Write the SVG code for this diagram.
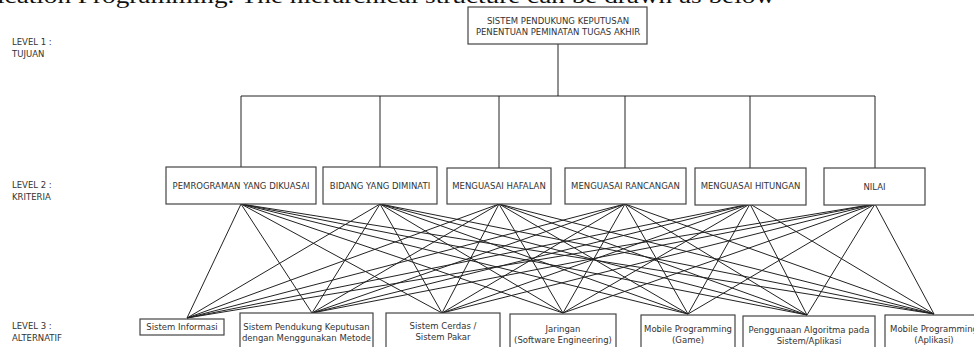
<svg xmlns="http://www.w3.org/2000/svg" width="974" height="347" viewBox="0 0 974 347">
<style>
.bx{fill:#fff;stroke:#444;stroke-width:1.2}
.t{font-family:"DejaVu Sans",Verdana,sans-serif;font-size:8.5px;fill:#333;text-anchor:middle}
.lv{font-family:"DejaVu Sans",Verdana,sans-serif;font-size:8.5px;fill:#333}
.c line,.c path{stroke:#222;stroke-width:1;fill:none}
.cap{font-family:"Liberation Serif","Times New Roman",serif;font-size:22px;fill:#111}
</style>
<rect width="974" height="347" fill="#fff"/>
<text class="cap" x="-3" y="3" textLength="778" lengthAdjust="spacingAndGlyphs">ication Programming. The hierarchical structure can be drawn as below</text>
<g id="levels">
<text class="lv" x="12" y="45">LEVEL 1 :</text>
<text class="lv" x="12" y="57">TUJUAN</text>
<text class="lv" x="12" y="188">LEVEL 2 :</text>
<text class="lv" x="12" y="200">KRITERIA</text>
<text class="lv" x="12" y="329">LEVEL 3 :</text>
<text class="lv" x="12" y="341">ALTERNATIF</text>
</g>
<g class="c" id="connectors">
<path d="M558 44V96M241 168V96H875V168M380 96V168M499 96V168M625 96V168M750 96V168"/>
<g id="links">
<line x1="241" y1="204" x2="187" y2="318"/><line x1="241" y1="204" x2="312" y2="313"/><line x1="241" y1="204" x2="442" y2="313"/><line x1="241" y1="204" x2="563" y2="313"/><line x1="241" y1="204" x2="688" y2="314"/><line x1="241" y1="204" x2="807" y2="315"/><line x1="241" y1="204" x2="934" y2="314"/>
<line x1="380" y1="204" x2="187" y2="318"/><line x1="380" y1="204" x2="312" y2="313"/><line x1="380" y1="204" x2="442" y2="313"/><line x1="380" y1="204" x2="563" y2="313"/><line x1="380" y1="204" x2="688" y2="314"/><line x1="380" y1="204" x2="807" y2="315"/><line x1="380" y1="204" x2="934" y2="314"/>
<line x1="499" y1="204" x2="187" y2="318"/><line x1="499" y1="204" x2="312" y2="313"/><line x1="499" y1="204" x2="442" y2="313"/><line x1="499" y1="204" x2="563" y2="313"/><line x1="499" y1="204" x2="688" y2="314"/><line x1="499" y1="204" x2="807" y2="315"/><line x1="499" y1="204" x2="934" y2="314"/>
<line x1="625" y1="204" x2="187" y2="318"/><line x1="625" y1="204" x2="312" y2="313"/><line x1="625" y1="204" x2="442" y2="313"/><line x1="625" y1="204" x2="563" y2="313"/><line x1="625" y1="204" x2="688" y2="314"/><line x1="625" y1="204" x2="807" y2="315"/><line x1="625" y1="204" x2="934" y2="314"/>
<line x1="750" y1="204" x2="187" y2="318"/><line x1="750" y1="204" x2="312" y2="313"/><line x1="750" y1="204" x2="442" y2="313"/><line x1="750" y1="204" x2="563" y2="313"/><line x1="750" y1="204" x2="688" y2="314"/><line x1="750" y1="204" x2="807" y2="315"/><line x1="750" y1="204" x2="934" y2="314"/>
<line x1="875" y1="204" x2="187" y2="318"/><line x1="875" y1="204" x2="312" y2="313"/><line x1="875" y1="204" x2="442" y2="313"/><line x1="875" y1="204" x2="563" y2="313"/><line x1="875" y1="204" x2="688" y2="314"/><line x1="875" y1="204" x2="807" y2="315"/><line x1="875" y1="204" x2="934" y2="314"/>
</g>
</g>
<g id="goal"><rect class="bx" x="468" y="7" width="179" height="37"/><text class="t" x="558" y="24">SISTEM PENDUKUNG KEPUTUSAN</text><text class="t" x="558" y="35">PENENTUAN PEMINATAN TUGAS AKHIR</text></g>
<g id="k1"><rect class="bx" x="166" y="167" width="150" height="37"/><text class="t" x="241" y="189">PEMROGRAMAN YANG DIKUASAI</text></g>
<g id="k2"><rect class="bx" x="323" y="167" width="114" height="37"/><text class="t" x="380" y="189">BIDANG YANG DIMINATI</text></g>
<g id="k3"><rect class="bx" x="447" y="168" width="104" height="36"/><text class="t" x="499" y="189">MENGUASAI HAFALAN</text></g>
<g id="k4"><rect class="bx" x="565" y="168" width="121" height="36"/><text class="t" x="625.5" y="189">MENGUASAI RANCANGAN</text></g>
<g id="k5"><rect class="bx" x="695" y="168" width="111" height="37"/><text class="t" x="750.5" y="189">MENGUASAI HITUNGAN</text></g>
<g id="k6"><rect class="bx" x="824" y="168" width="101" height="37"/><text class="t" x="874.5" y="190">NILAI</text></g>
<g id="a1"><rect class="bx" x="140" y="319" width="84" height="16"/><text class="t" x="182" y="330">Sistem Informasi</text></g>
<g id="a2"><rect class="bx" x="240" y="313" width="133" height="40"/><text class="t" x="306.5" y="330">Sistem Pendukung Keputusan</text><text class="t" x="306.5" y="341">dengan Menggunakan Metode</text></g>
<g id="a3"><rect class="bx" x="386" y="313" width="114" height="40"/><text class="t" x="443" y="329">Sistem Cerdas /</text><text class="t" x="443" y="340">Sistem Pakar</text></g>
<g id="a4"><rect class="bx" x="510" y="314" width="106" height="40"/><text class="t" x="563" y="332">Jaringan</text><text class="t" x="563" y="343">(Software Engineering)</text></g>
<g id="a5"><rect class="bx" x="641" y="315" width="94" height="40"/><text class="t" x="688" y="332">Mobile Programming</text><text class="t" x="688" y="343">(Game)</text></g>
<g id="a6"><rect class="bx" x="743" y="316" width="132" height="40"/><text class="t" x="809" y="333">Penggunaan Algoritma pada</text><text class="t" x="809" y="344">Sistem/Aplikasi</text></g>
<g id="a7"><rect class="bx" x="885" y="315" width="100" height="40"/><text class="t" x="934" y="332">Mobile Programming</text><text class="t" x="934" y="343">(Aplikasi)</text></g>
</svg>
